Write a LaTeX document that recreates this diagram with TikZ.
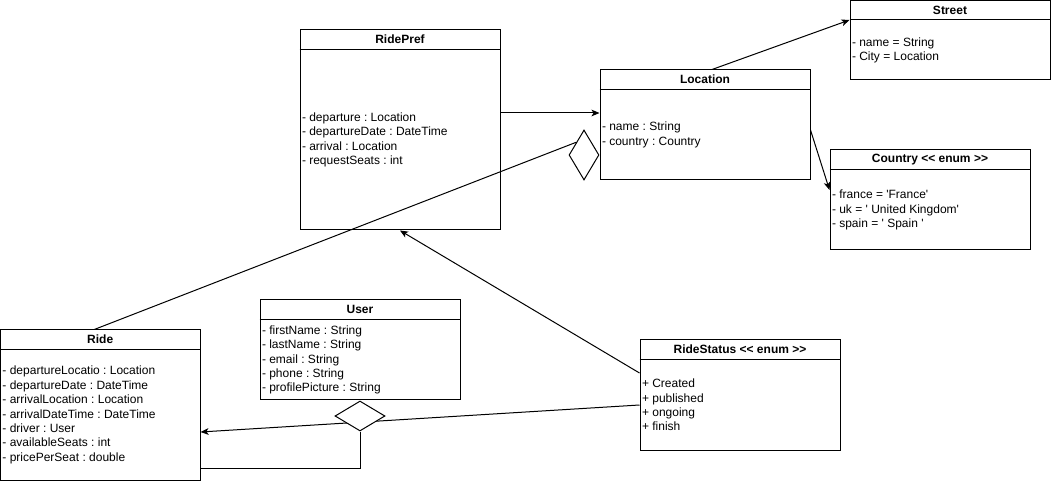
\documentclass[tikz,border=0pt]{standalone}
\usepackage{fontspec}
\setmainfont{Liberation Sans}[Ligatures=TeXOff]
\usetikzlibrary{shapes.geometric,arrows.meta}
\frenchspacing

\begin{document}
\begin{tikzpicture}[x=0.75pt, y=-0.75pt, line width=0.75pt,
	font=\fontsize{9pt}{10.8pt}\selectfont,
	classbox/.style={draw, rectangle, inner sep=0pt},
	classtitle/.style={font=\fontsize{9pt}{10.8pt}\selectfont\bfseries, inner sep=0pt},
	attrs/.style={anchor=west, align=left, inner sep=0pt},
	agg/.style={draw, diamond, fill=white, inner sep=0pt},
	assoc/.style={-{Stealth[length=6pt, width=5pt, inset=1.5pt]}}]
	\useasboundingbox (0,0) rectangle (1051,481);

	\node[classbox, minimum width=150pt, minimum height=150pt] (ridepref) at (400,130) {};
	\node[classbox, minimum width=157.5pt, minimum height=82.5pt] (location) at (705,125) {};
	\node[classbox, minimum width=150pt, minimum height=59.625pt] (street) at (950,40.25) {};
	\node[classbox, minimum width=150pt, minimum height=75pt] (country) at (930,200) {};
	\node[classbox, minimum width=149.625pt, minimum height=112.5pt] (ride) at (100.25,405) {};
	\node[classbox, minimum width=150pt, minimum height=75pt] (user) at (360,350) {};
	\node[classbox, minimum width=150pt, minimum height=82.5pt] (ridestatus) at (740,395) {};

	\draw ([yshift=-15pt]ridepref.north west) -- ([yshift=-15pt]ridepref.north east);
	\draw ([yshift=-15pt]location.north west) -- ([yshift=-15pt]location.north east);
	\draw ([yshift=-15pt]street.north west) -- ([yshift=-15pt]street.north east);
	\draw ([yshift=-15pt]country.north west) -- ([yshift=-15pt]country.north east);
	\draw ([yshift=-15pt]ride.north west) -- ([yshift=-15pt]ride.north east);
	\draw ([yshift=-15pt]user.north west) -- ([yshift=-15pt]user.north east);
	\draw ([yshift=-15pt]ridestatus.north west) -- ([yshift=-15pt]ridestatus.north east);

	\node[classtitle] (ridepref title) at ([yshift=-7.5pt]ridepref.north) {RidePref};
	\node[classtitle] (location title) at ([yshift=-7.5pt]location.north) {Location};
	\node[classtitle] (street title) at ([yshift=-7.5pt]street.north) {Street};
	\node[classtitle] (country title) at ([yshift=-7.5pt]country.north) {Country << enum >>};
	\node[classtitle] (ride title) at ([yshift=-7.5pt]ride.north) {Ride};
	\node[classtitle] (user title) at ([yshift=-7.5pt]user.north) {User};
	\node[classtitle] (ridestatus title) at ([yshift=-7.5pt]ridestatus.north) {RideStatus << enum >>};

	\node[attrs] (ridepref attrs) at ([shift={(1.5pt,-7.5pt)}]ridepref.west) {- departure : Location\\- departureDate : DateTime\\- arrival : Location\\- requestSeats : int};
	\node[attrs] (location attrs) at ([shift={(1.5pt,-7.5pt)}]location.west) {- name : String\\- country : Country};
	\node[attrs] (street attrs) at ([shift={(1.5pt,-7.5pt)}]street.west) {- name = String\\- City = Location};
	\node[attrs] (country attrs) at ([shift={(1.5pt,-7.5pt)}]country.west) {- france = 'France'\\- uk = ' United Kingdom'\\- spain = ' Spain '};
	\node[attrs] (ride attrs) at ([shift={(1.5pt,-7.5pt)}]ride.west) {- departureLocatio : Location\\- departureDate : DateTime\\- arrivalLocation : Location\\- arrivalDateTime : DateTime\\- driver : User\\- availableSeats : int\\- pricePerSeat : double};
	\node[attrs] (user attrs) at ([shift={(1.5pt,-7.5pt)}]user.west) {- firstName : String\\- lastName : String\\- email : String\\- phone : String\\- profilePicture : String};
	\node[attrs] (ridestatus attrs) at ([shift={(1.5pt,-7.5pt)}]ridestatus.west) {+ Created\\+ published\\+ ongoing\\+ finish};

	\coordinate (rp out) at ([yshift=12.75pt]ridepref.east);
	\draw[assoc] (rp out) -- (rp out -| location.west);
	\draw[assoc] ([xshift=5.25pt]location.north) -- ([yshift=-15pt]street.north west);
	\draw[assoc] ([yshift=-3.75pt]location.east) -- ([yshift=7.5pt]country.west);
	\draw[assoc] ([yshift=16.5pt]ridestatus.west) -- (ridepref.south);
	\draw[assoc] ([yshift=-7.5pt]ridestatus.west) -- ([yshift=-20.25pt]ride.east);

	\node[agg, minimum width=22.5pt, minimum height=37.5pt, anchor=east] (loc diamond) at ([yshift=-22.5pt]location.west) {};
	\node[agg, minimum width=37.5pt, minimum height=22.5pt, anchor=north] (user diamond) at (user.south) {};
	\draw ([xshift=-4.5pt]ride.north) -- (loc diamond.north west);
	\coordinate (ride in) at ([yshift=-47.25pt]ride.east);
	\draw (user diamond.south) |- (ride in);
\end{tikzpicture}
\end{document}
